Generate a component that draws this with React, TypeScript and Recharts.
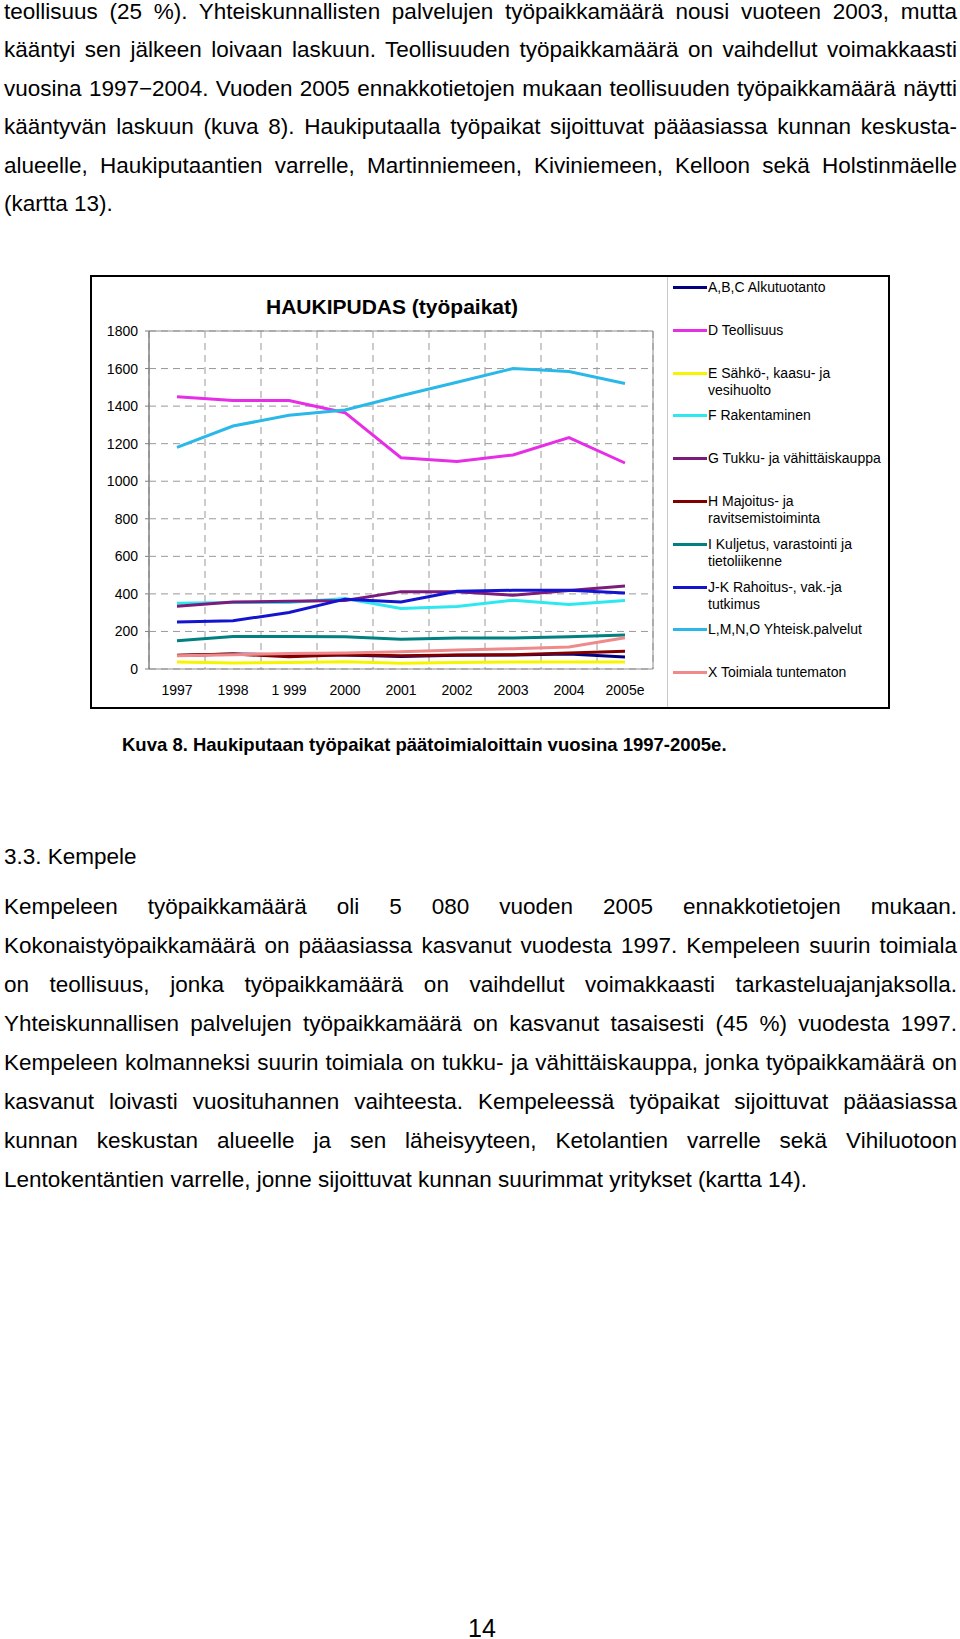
import React from "react";
import { LineChart, Line, XAxis, YAxis, CartesianGrid, ReferenceArea } from "recharts";

const years = ["1997", "1998", "1 999", "2000", "2001", "2002", "2003", "2004", "2005e"];
const yTicks = [0, 200, 400, 600, 800, 1000, 1200, 1400, 1600, 1800];

const alkutuotanto = [72, 80, 76, 74, 66, 73, 74, 80, 64];
const teollisuus = [1450, 1430, 1430, 1365, 1125, 1105, 1140, 1232, 1097];
const sahko = [37, 32, 35, 38, 30, 35, 37, 37, 37];
const rakentaminen = [350, 354, 354, 375, 322, 333, 366, 343, 365];
const kauppa = [334, 357, 361, 365, 412, 412, 393, 418, 442];
const majoitus = [73, 80, 65, 76, 71, 74, 76, 85, 94];
const kuljetus = [150, 173, 173, 172, 159, 165, 165, 172, 181];
const rahoitus = [250, 257, 301, 372, 357, 414, 419, 419, 405];
const yhteiskunta = [1180, 1294, 1351, 1379, 1455, 1527, 1600, 1584, 1520];
const tuntematon = [71, 76, 83, 85, 92, 101, 108, 117, 166];

const series = [
  { key: "abc", name: "A,B,C Alkutuotanto", color: "#000080", values: alkutuotanto },
  { key: "teol", name: "D Teollisuus", color: "#e62ee6", values: teollisuus },
  { key: "sahko", name: "E Sähkö-, kaasu- ja\nvesihuolto", color: "#f5f500", values: sahko },
  { key: "rak", name: "F Rakentaminen", color: "#2ee8f0", values: rakentaminen },
  { key: "kauppa", name: "G Tukku- ja vähittäiskauppa", color: "#7b1b7b", values: kauppa },
  { key: "majoitus", name: "H Majoitus- ja\nravitsemistoiminta", color: "#800000", values: majoitus },
  { key: "kuljetus", name: "I Kuljetus, varastointi ja\ntietoliikenne", color: "#008080", values: kuljetus },
  { key: "rahoitus", name: "J-K Rahoitus-, vak.-ja\ntutkimus", color: "#1414d0", values: rahoitus },
  { key: "yhteis", name: "L,M,N,O Yhteisk.palvelut", color: "#2ab8e8", values: yhteiskunta },
  { key: "tuntematon", name: "X Toimiala tuntematon", color: "#f08a8a", values: tuntematon },
];

const para1 = [
  "teollisuus (25 %). Yhteiskunnallisten palvelujen työpaikkamäärä nousi vuoteen 2003, mutta",
  "kääntyi sen jälkeen loivaan laskuun. Teollisuuden työpaikkamäärä on vaihdellut voimakkaasti",
  "vuosina 1997−2004.  Vuoden 2005 ennakkotietojen mukaan teollisuuden työpaikkamäärä näytti",
  "kääntyvän laskuun (kuva 8). Haukiputaalla työpaikat sijoittuvat pääasiassa kunnan keskusta-",
  "alueelle, Haukiputaantien varrelle, Martinniemeen, Kiviniemeen, Kelloon sekä Holstinmäelle",
  "(kartta 13).",
];

const para2 = [
  "Kempeleen työpaikkamäärä oli 5 080 vuoden 2005 ennakkotietojen mukaan.",
  "Kokonaistyöpaikkamäärä on pääasiassa kasvanut vuodesta 1997. Kempeleen suurin toimiala",
  "on teollisuus, jonka työpaikkamäärä on vaihdellut voimakkaasti tarkasteluajanjaksolla.",
  "Yhteiskunnallisen palvelujen työpaikkamäärä on kasvanut tasaisesti (45 %) vuodesta 1997.",
  "Kempeleen kolmanneksi suurin toimiala on tukku- ja vähittäiskauppa, jonka työpaikkamäärä on",
  "kasvanut loivasti vuosituhannen vaihteesta. Kempeleessä työpaikat sijoittuvat pääasiassa",
  "kunnan keskustan alueelle ja sen läheisyyteen, Ketolantien varrelle sekä Vihiluotoon",
  "Lentokentäntien varrelle, jonne sijoittuvat kunnan suurimmat yritykset (kartta 14).",
];

const rows = years.map((y, idx) => {
  const row: Record<string, number | string> = { idx, year: y };
  series.forEach((s) => {
    row[s.key] = s.values[idx];
  });
  return row;
});

const centers = years.map((_, i) => i);
const edges = [...years.map((_, i) => i - 0.5), years.length - 0.5];
const domain: [number, number] = [-0.5, years.length - 0.5];

const FONT = '"Liberation Sans", Arial, sans-serif';
const BODY = 22.5;

function Paragraph({ lines, top, step }: { lines: string[]; top: number; step: number }) {
  return (
    <>
      {lines.map((t, i) => (
        <div
          key={i}
          style={{
            position: "absolute",
            left: 4,
            width: 953,
            top: top + i * step,
            height: step,
            lineHeight: `${step}px`,
            fontSize: BODY,
            whiteSpace: "nowrap",
            textAlign: "justify",
            textAlignLast: i === lines.length - 1 ? "left" : "justify",
          }}
        >
          {t}
        </div>
      ))}
    </>
  );
}

function Legend() {
  return (
    <div style={{ position: "absolute", left: 581, top: 2, width: 210 }}>
      {series.map((s, i) => (
        <div key={s.key} style={{ position: "absolute", top: i * 42.8, left: 0, width: 210 }}>
          <div
            style={{
              position: "absolute",
              left: 0,
              top: 7,
              width: 34,
              height: 3,
              background: s.color,
            }}
          />
          <div
            style={{
              position: "absolute",
              left: 35,
              top: 0,
              fontSize: 14,
              lineHeight: "17px",
              whiteSpace: "pre",
            }}
          >
            {s.name}
          </div>
        </div>
      ))}
    </div>
  );
}

export default function App() {
  return (
    <div style={{ position: "relative", width: 960, height: 1639, fontFamily: FONT, color: "#000", background: "#fff" }}>
      <style>{`body{margin:0}`}</style>
      <Paragraph lines={para1} top={-7.5} step={38.5} />

      <div
        style={{
          position: "absolute",
          left: 90,
          top: 275,
          width: 800,
          height: 434,
          boxSizing: "border-box",
          border: "2px solid #000",
          background: "#fff",
        }}
      >
        <div
          style={{
            position: "absolute",
            left: 0,
            width: 600,
            top: 18,
            textAlign: "center",
            fontWeight: "bold",
            fontSize: 21,
            lineHeight: "24px",
          }}
        >
          HAUKIPUDAS (työpaikat)
        </div>
        <div style={{ position: "absolute", left: 575, top: 0, width: 1, height: 430, background: "#c8c8c8" }} />
        <LineChart width={796} height={430} data={rows} margin={{ top: 54, right: 235, bottom: 0, left: 0 }}>
          <XAxis
            xAxisId="grid"
            type="number"
            dataKey="idx"
            domain={domain}
            allowDataOverflow
            ticks={edges}
            tickFormatter={() => ""}
            height={0}
            stroke="#808080"
            tickSize={5}
            interval={0}
          />
          <XAxis
            xAxisId="lab"
            type="number"
            dataKey="idx"
            domain={domain}
            allowDataOverflow
            ticks={centers}
            interval={0}
            tickFormatter={(v: number) => years[v] ?? ""}
            axisLine={false}
            tickLine={false}
            height={38}
            tickSize={6}
            tickMargin={10}
            tick={{ fill: "#000", fontSize: 14, fontFamily: FONT }}
          />
          <YAxis
            yAxisId="y"
            domain={[0, 1800]}
            ticks={yTicks}
            interval={0}
            width={57}
            stroke="#808080"
            tickSize={4}
            tickMargin={7}
            tick={{ fill: "#000", fontSize: 14, fontFamily: FONT }}
          />
          <CartesianGrid xAxisId="grid" yAxisId="y" stroke="#999" strokeDasharray="7 5" />
          <ReferenceArea
            xAxisId="grid"
            yAxisId="y"
            x1={domain[0]}
            x2={domain[1]}
            y1={0}
            y2={1800}
            fill="none"
            fillOpacity={0}
            stroke="#8c8c8c"
            strokeOpacity={1}
          />
          {series.map((s) => (
            <Line
              key={s.key}
              xAxisId="lab"
              yAxisId="y"
              dataKey={s.key}
              name={s.name}
              stroke={s.color}
              strokeWidth={3}
              dot={false}
              type="linear"
              isAnimationActive={false}
            />
          ))}
        </LineChart>
        <Legend />
      </div>

      <div style={{ position: "absolute", left: 122, top: 734, fontSize: 18.5, lineHeight: "22px", fontWeight: "bold" }}>
        Kuva 8. Haukiputaan työpaikat päätoimialoittain vuosina 1997-2005e.
      </div>

      <div style={{ position: "absolute", left: 4, top: 843, fontSize: BODY, lineHeight: "28px" }}>3.3. Kempele</div>

      <Paragraph lines={para2} top={886.5} step={39.1} />

      <div style={{ position: "absolute", left: 0, width: 964, top: 1613, textAlign: "center", fontSize: 25, lineHeight: "30px" }}>
        14
      </div>
    </div>
  );
}
